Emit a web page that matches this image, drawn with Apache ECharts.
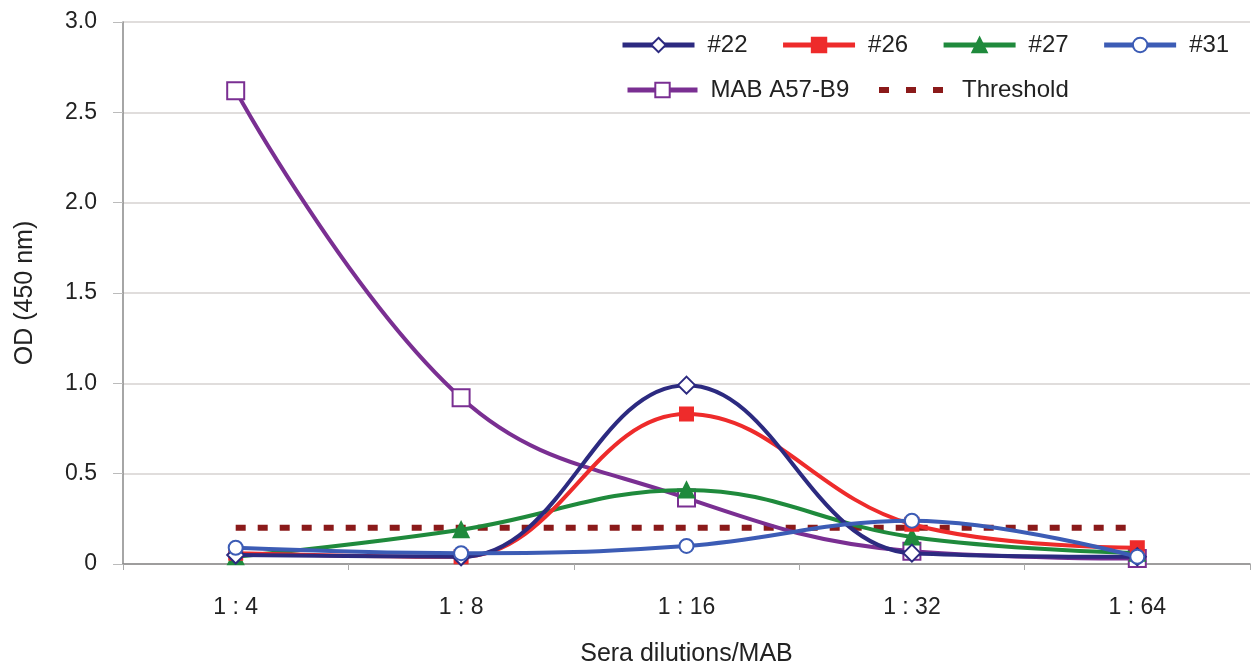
<!DOCTYPE html>
<html><head><meta charset="utf-8">
<script src="https://cdn.jsdelivr.net/npm/echarts@6/dist/echarts.min.js"></script>
<style>html,body{margin:0;padding:0;background:#fff}#c{width:1253px;height:664px}</style>
</head><body><div id="c"></div>
<script>
const categories = ['1 : 4', '1 : 8', '1 : 16', '1 : 32', '1 : 64'];
const s22 = [0.05, 0.04, 0.99, 0.06, 0.04];
const s26 = [0.06, 0.04, 0.83, 0.22, 0.09];
const s27 = [0.04, 0.19, 0.41, 0.15, 0.06];
const s31 = [0.09, 0.06, 0.10, 0.24, 0.04];
const mab = [2.62, 0.92, 0.365, 0.07, 0.03];
const threshold = [0.2, 0.2, 0.2, 0.2, 0.2];

const FONT = 'Liberation Sans, Arial, sans-serif';
const chart = echarts.init(document.getElementById('c'));
function ser(name, data, color, symbol, size, fill, z) {
  return {
    name, type: 'line', data, smooth: 0.4, z: z,
    symbol, symbolSize: size,
    lineStyle: { color, width: 4 },
    itemStyle: { color: fill, borderColor: color, borderWidth: 2 },
    emphasis: { disabled: true }
  };
}
const legText = { fontSize: 24, color: '#222', fontFamily: FONT, padding: [0, 0, 0, 8] };
chart.setOption({
  animation: false,
  backgroundColor: '#fff',
  textStyle: { fontFamily: FONT },
  grid: { left: 123, right: 3, top: 22, bottom: 100, outerBoundsMode: 'none', containLabel: false },
  legend: [
    { data: ['#22', '#26', '#27', '#31'], left: 620, top: 33, padding: 0, itemWidth: 72, itemHeight: 18, itemGap: 33,
      lineStyle: { width: 5 }, textStyle: legText },
    { data: ['MAB A57-B9'], left: 625, top: 78, padding: 0, itemWidth: 70, itemHeight: 18,
      lineStyle: { width: 5 }, textStyle: legText },
    { data: [{ name: 'Threshold', itemStyle: { opacity: 0 } }], left: 876, top: 78, padding: 0, itemWidth: 64, itemHeight: 18,
      lineStyle: { width: 6, type: [10, 17] }, textStyle: { fontSize: 24, color: '#222', fontFamily: FONT, padding: [0, 0, 0, 14] } }
  ],
  xAxis: {
    type: 'category', data: categories, boundaryGap: true,
    axisLine: { lineStyle: { color: '#888', width: 1.5 } },
    axisTick: { show: true, length: 6, lineStyle: { color: '#aaa' } },
    axisLabel: { fontSize: 23, color: '#222', margin: 32 },
    name: 'Sera dilutions/MAB', nameLocation: 'middle', nameGap: 78,
    nameTextStyle: { fontSize: 25, color: '#222' }
  },
  yAxis: {
    type: 'value', min: 0, max: 3, interval: 0.5,
    axisLine: { show: true, lineStyle: { color: '#888', width: 1.5 } },
    axisTick: { show: true, length: 10, lineStyle: { color: '#bbb' } },
    splitLine: { lineStyle: { color: '#d6d2d0', width: 1.5 } },
    axisLabel: { fontSize: 23, color: '#222', margin: 26,
      formatter: v => (v === 0 ? '0' : v.toFixed(1)) },
    name: 'OD (450 nm)', nameLocation: 'middle', nameGap: 85, nameRotate: 90,
    nameTextStyle: { fontSize: 25, color: '#222' }
  },
  series: [
    ser('#22', s22, '#2c2a80', 'diamond', 17, '#fff', 5),
    ser('#26', s26, '#ee2b2b', 'rect', 13, '#ee2b2b', 4),
    ser('#27', s27, '#1f8a3c', 'triangle', 15, '#1f8a3c', 3),
    ser('#31', s31, '#3c5cb5', 'circle', 14, '#fff', 6),
    ser('MAB A57-B9', mab, '#7a2f92', 'rect', 17, '#fff', 2),
    { name: 'Threshold', type: 'line', data: threshold, symbol: 'none', z: 1,
      lineStyle: { color: '#8b1a1a', width: 6, type: [10, 12] },
      itemStyle: { color: '#8b1a1a' }, emphasis: { disabled: true } }
  ]
});
</script></body></html>
